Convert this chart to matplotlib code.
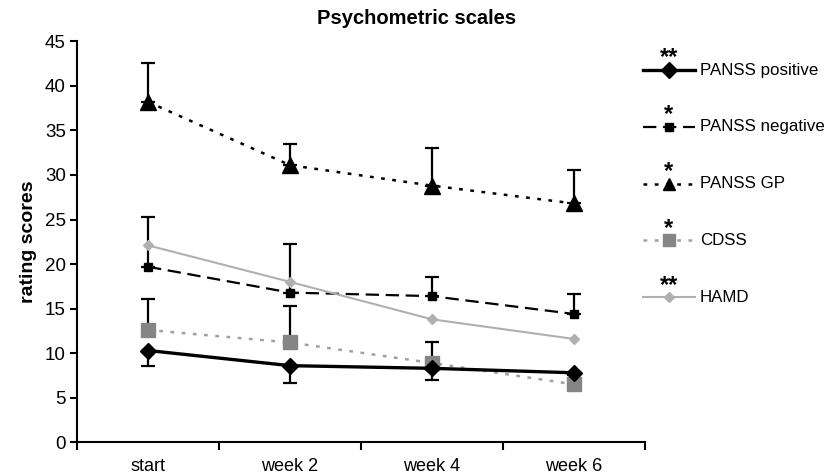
import numpy as np
import matplotlib.pyplot as plt
from matplotlib.lines import Line2D

plt.rcParams["font.family"] = ["Liberation Sans", "DejaVu Sans"]

# ---------------------------------------------------------------------------
# Data
# ---------------------------------------------------------------------------
categories = ["start", "week 2", "week 4", "week 6"]

panss_pos = [10.3, 8.6, 8.3, 7.8]
panss_pos_err = [1.7, 2.0, 1.3, 0.3]      # drawn downward

panss_neg = [19.7, 16.8, 16.4, 14.4]
panss_neg_err = [5.6, 5.5, 2.2, 2.2]      # drawn upward

panss_gp = [38.2, 31.1, 28.8, 26.8]
panss_gp_err = [4.4, 2.4, 4.2, 3.7]

cdss = [12.6, 11.2, 8.9, 6.5]
cdss_err = [3.5, 4.1, 2.4, 0.0]

hamd = [22.1, 18.0, 13.8, 11.6]

legend_labels = ["PANSS positive", "PANSS negative", "PANSS GP", "CDSS", "HAMD"]
legend_stars = ["**", "*", "*", "*", "**"]

# ---------------------------------------------------------------------------
# Styles
# ---------------------------------------------------------------------------
styles = [
    dict(color="black", ls="-", lw=2.4, marker="D", ms=8, mfc="black", mec="black"),
    dict(color="black", ls=(0, (6, 3)), lw=1.6, marker="s", ms=6, mfc="black", mec="black"),
    dict(color="black", ls=(0, (1.5, 3)), lw=1.8, marker="^", ms=11, mfc="black", mec="black"),
    dict(color="#a0a0a0", ls=(0, (1.5, 3)), lw=1.8, marker="s", ms=10, mfc="#858585", mec="#858585"),
    dict(color="#b0b0b0", ls="-", lw=1.5, marker="D", ms=5, mfc="#b0b0b0", mec="#b0b0b0"),
]

x = np.arange(len(categories)) + 0.5

fig = plt.figure(figsize=(8.31, 4.74), dpi=100)
ax = fig.add_axes([0.0927, 0.0669, 0.6833, 0.846])

eb_kw = dict(fmt="none", ecolor="black", elinewidth=1.6, capsize=5, capthick=1.6)

zero = [0] * len(categories)
ax.errorbar(x, panss_gp, yerr=[zero, panss_gp_err], zorder=2, **eb_kw)
ax.plot(x, panss_gp, zorder=3, **styles[2])

ax.errorbar(x, panss_neg, yerr=[zero, panss_neg_err], zorder=2, **eb_kw)
ax.plot(x, panss_neg, zorder=3, **styles[1])

ax.plot(x, hamd, zorder=3, **styles[4])

ax.errorbar(x, cdss, yerr=[zero, cdss_err], zorder=2, **eb_kw)
ax.plot(x, cdss, zorder=3, **styles[3])

ax.errorbar(x, panss_pos, yerr=[panss_pos_err, zero], zorder=2, **eb_kw)
ax.plot(x, panss_pos, zorder=4, **styles[0])

# axes styling (Excel look)
ax.set_xlim(0, len(categories))
ax.set_ylim(0, 45)
ax.set_yticks(np.arange(0, 46, 5))
ax.set_xticks(np.arange(0, len(categories) + 1))
ax.set_xticklabels([])
ax.set_xticks(x, minor=True)
ax.set_xticklabels(categories, minor=True, fontsize=13)
ax.tick_params(axis="x", which="major", direction="out", length=6, width=1.5)
ax.tick_params(axis="x", which="minor", length=0, pad=11)
ax.tick_params(axis="y", direction="out", length=5, width=1.5, labelsize=13.5, pad=3)

for side in ["top", "right"]:
    ax.spines[side].set_visible(False)
for side in ["left", "bottom"]:
    ax.spines[side].set_linewidth(1.5)

ax.set_ylabel("rating scores", fontsize=14, fontweight="bold", labelpad=6)
fig.text(417 / 831, 1 - 19 / 474, "Psychometric scales", ha="center", va="center",
         fontsize=14.5, fontweight="bold")

# ---------------------------------------------------------------------------
# Legend, drawn by hand so the significance stars sit above each key
# ---------------------------------------------------------------------------
lg = fig.add_axes([0, 0, 1, 1])
lg.set_xlim(0, 831)
lg.set_ylim(474, 0)
lg.axis("off")

y0, dy = 70, 56.8
for i, (lab, star, st) in enumerate(zip(legend_labels, legend_stars, styles)):
    yy = y0 + i * dy
    lg.add_line(Line2D([643, 695], [yy, yy], color=st["color"], ls=st["ls"],
                       lw=st["lw"]))
    lg.add_line(Line2D([669], [yy], marker=st["marker"],
                       ms=min(st["ms"], 8) if i != 3 else 8,
                       mfc=st["mfc"], mec=st["mec"], ls="none"))
    lg.text(700, yy, lab, ha="left", va="center", fontsize=12.2)
    lg.text(669, yy - 12, star, ha="center", va="center", fontsize=17,
            fontweight="bold")

fig.savefig("out.png", dpi=100)
